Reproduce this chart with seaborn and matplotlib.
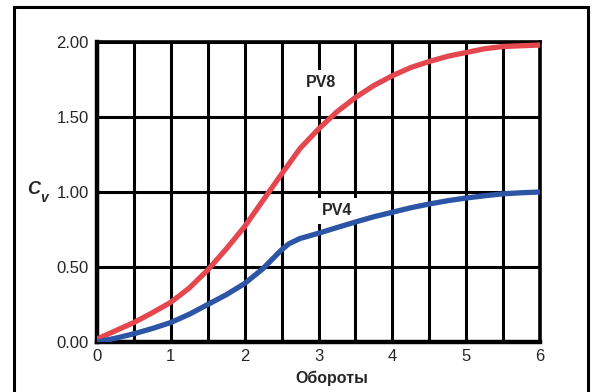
import numpy as np
import pandas as pd
import matplotlib
matplotlib.use("Agg")
import matplotlib.pyplot as plt
import seaborn as sns
from matplotlib.patches import Rectangle

# turns and Cv values
turns_pv8 = [0, 0.25, 0.5, 0.75, 1, 1.25, 1.5, 1.75, 2, 2.25, 2.5, 2.75, 3,
             3.25, 3.5, 3.75, 4, 4.25, 4.5, 4.75, 5, 5.25, 5.5, 5.75, 6]
cv_pv8 = [0.02, 0.075, 0.13, 0.195, 0.265, 0.36, 0.48, 0.62, 0.77, 0.945, 1.12,
          1.29, 1.42, 1.535, 1.63, 1.71, 1.775, 1.83, 1.87, 1.905, 1.93, 1.955,
          1.97, 1.975, 1.98]

turns_pv4 = [0, 0.25, 0.5, 0.75, 1, 1.25, 1.5, 1.75, 2, 2.25, 2.5, 2.6, 2.75,
             3, 3.25, 3.5, 3.75, 4, 4.25, 4.5, 4.75, 5, 5.25, 5.5, 5.75, 6]
cv_pv4 = [0.0, 0.025, 0.055, 0.09, 0.13, 0.185, 0.25, 0.315, 0.39, 0.49, 0.615,
          0.655, 0.69, 0.725, 0.763, 0.80, 0.835, 0.865, 0.895, 0.92, 0.942,
          0.96, 0.975, 0.988, 0.995, 1.0]

x_ticks = [0, 1, 2, 3, 4, 5, 6]
y_ticks = [0.0, 0.5, 1.0, 1.5, 2.0]
series_names = ["PV8", "PV4"]
series_colors = {"PV8": "#e5474f", "PV4": "#2d55a5"}

df = pd.concat([
    pd.DataFrame({"turns": turns_pv8, "cv": cv_pv8, "valve": "PV8"}),
    pd.DataFrame({"turns": turns_pv4, "cv": cv_pv4, "valve": "PV4"}),
])

sns.set_style("white")
plt.rcParams["font.family"] = ["Liberation Sans", "DejaVu Sans"]

W, H = 595, 392
fig = plt.figure(figsize=(W / 100, H / 100), dpi=100)
ax = fig.add_axes([97 / W, 1 - 342 / H, (540 - 97) / W, (342 - 42) / H])

# outer frame of the figure box
fig.patches.append(Rectangle((14 / W, -0.1), (588 - 14) / W, 1.1 - 7 / H,
                             transform=fig.transFigure, fill=False,
                             edgecolor="black", linewidth=2.2))

sns.lineplot(data=df, x="turns", y="cv", hue="valve", hue_order=series_names,
             palette=series_colors, linewidth=3.8, legend=False, ax=ax,
             zorder=4, solid_joinstyle="round")

ax.set_xlim(0, 6)
ax.set_ylim(0, 2)
ax.set_xticks(np.arange(0, 6.01, 0.5), minor=True)
ax.set_xticks(x_ticks)
ax.set_yticks(y_ticks)
ax.set_xticklabels([str(t) for t in x_ticks], fontsize=12)
ax.set_yticklabels([f"{v:.2f}" for v in y_ticks], fontsize=12)
ax.tick_params(axis="both", which="both", length=0)
ax.tick_params(axis="x", pad=5)
ax.tick_params(axis="y", pad=6)
ax.set_axisbelow(True)
ax.grid(True, which="both", axis="x", color="black", linewidth=2.2)
ax.grid(True, which="major", axis="y", color="black", linewidth=2.2)
for s in ax.spines.values():
    s.set_color("black")
    s.set_linewidth(2.6)
ax.spines["left"].set_linewidth(3.2)
ax.spines["bottom"].set_linewidth(3.2)
ax.set_xlabel("")
ax.set_ylabel("")

box = dict(facecolor="white", edgecolor="none", pad=4)
ax.text(3.04, 1.727, "PV8", fontsize=11.5, fontweight="bold", ha="center",
        va="center", bbox=box, zorder=3)
ax.text(3.25, 0.875, "PV4", fontsize=11.5, fontweight="bold", ha="center",
        va="center", bbox=box, zorder=3)

fig.text(332 / W, 1 - 378 / H, "Обороты", fontsize=11.5, fontweight="bold",
         ha="center", va="center")
fig.text(34 / W, 1 - 190 / H, "C", fontsize=13, fontweight="bold",
         fontstyle="italic", ha="center", va="center")
fig.text(44 / W, 1 - 198 / H, "v", fontsize=10, fontweight="bold",
         fontstyle="italic", ha="center", va="center")

fig.savefig("out.png", dpi=100)
